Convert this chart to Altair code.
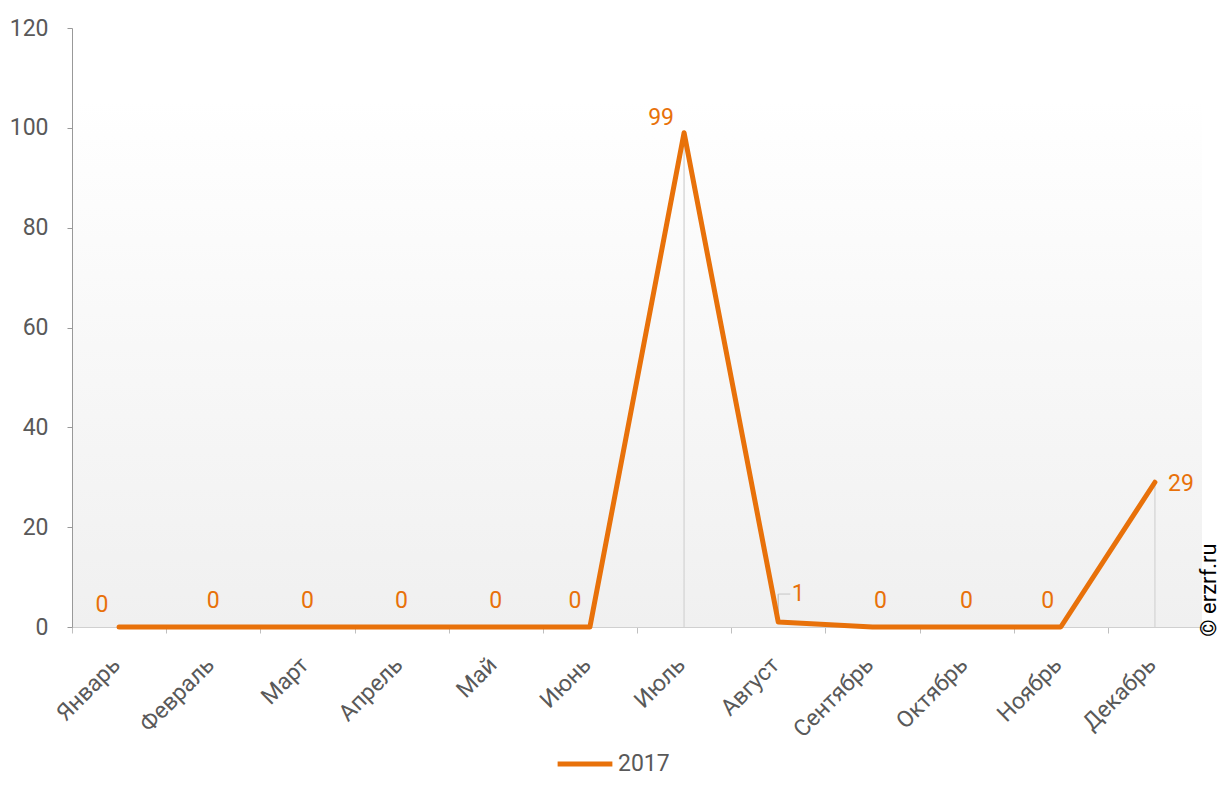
import altair as alt
import pandas as pd

months = ["Январь", "Февраль", "Март", "Апрель", "Май", "Июнь",
          "Июль", "Август", "Сентябрь", "Октябрь", "Ноябрь", "Декабрь"]
values = [0, 0, 0, 0, 0, 0, 99, 1, 0, 0, 0, 29]
series = "2017"
y_ticks = [0, 20, 40, 60, 80, 100, 120]

# label leader line for the "1" label (in data units)
leader_month = "Август"
leader_y = [1.8, 6.6]

ORANGE = "#E8710A"
TXT = "#595959"
FONT = "Roboto"
FS = 23
W, H = 1130, 599

df = pd.DataFrame({"month": months, "value": values, "series": series})

xenc = alt.X("month:N", sort=months,
             scale=alt.Scale(type="band", paddingInner=0, paddingOuter=0),
             axis=alt.Axis(title=None, labelAngle=-45, labelAlign="right",
                           labelBaseline="middle", tickBand="extent"))
yscale = alt.Scale(domain=[0, 120], nice=False)
yenc = alt.Y("value:Q", scale=yscale, axis=alt.Axis(title=None, values=y_ticks))

base = alt.Chart(df)

bg = alt.Chart(pd.DataFrame({"a": [0]})).mark_rect(
    color=alt.LinearGradient(
        gradient="linear",
        stops=[alt.GradientStop(color="#ffffff", offset=0),
               alt.GradientStop(color="#ffffff", offset=0.12),
               alt.GradientStop(color="#f0f0f0", offset=1)],
        x1=0, x2=0, y1=0, y2=1)
).encode(x=alt.value(1), x2=alt.value(W),
         y=alt.datum(120, scale=yscale, axis=alt.Axis(title=None, values=y_ticks)),
         y2=alt.datum(0))

drops = base.transform_filter(alt.datum.value > 1).mark_rule(
    color="#d9d9d9", strokeWidth=1.5
).encode(x=xenc, y=yenc, y2=alt.datum(0))

ldf = pd.DataFrame({"month": [leader_month], "y0": [leader_y[0]], "y1": [leader_y[1]]})
leader_v = alt.Chart(ldf).mark_rule(color="#c8c8c8", strokeWidth=1.5).encode(
    x=xenc, y=alt.Y("y0:Q", scale=yscale), y2="y1:Q")
leader_h = alt.Chart(ldf).mark_tick(color="#c8c8c8", thickness=1.5, size=12,
                                    orient="horizontal", xOffset=6).encode(
    x=xenc, y=alt.Y("y1:Q", scale=yscale))

line = base.mark_line(strokeWidth=5, strokeCap="round", strokeJoin="round").encode(
    x=xenc,
    y=yenc,
    color=alt.Color("series:N", scale=alt.Scale(range=[ORANGE]),
                    legend=alt.Legend(title=None, orient="none",
                                      legendX=483, legendY=706,
                                      symbolType="stroke", symbolSize=3000,
                                      symbolStrokeWidth=5, labelFontSize=FS,
                                      labelColor=TXT, labelFont=FONT,
                                      padding=0, labelOffset=3))
)

lbl_kw = dict(fontSize=FS, color=ORANGE, font=FONT)


def lbl(names, dx, dy):
    return base.transform_filter(
        alt.FieldOneOfPredicate(field="month", oneOf=names)
    ).mark_text(dx=dx, dy=dy, **lbl_kw).encode(x=xenc, y=yenc, text="value:Q")


layers = [
    bg, drops, leader_v, leader_h, line,
    lbl(["Февраль", "Март", "Апрель", "Май", "Октябрь"], 0, -26),
    lbl(["Январь"], -17, -22),
    lbl(["Июнь"], -15, -26),
    lbl(["Сентябрь"], 8, -26),
    lbl(["Ноябрь"], -13, -26),
    lbl(["Июль"], -23, -15),
    lbl(["Август"], 20, -28),
    lbl(["Декабрь"], 26, 2),
]

wm = alt.Chart(pd.DataFrame({"t": ["© erzrf.ru"]})).mark_text(
    angle=270, fontSize=22, color="#000000", font=FONT, align="center", baseline="middle"
).encode(x=alt.value(1137), y=alt.value(562), text="t:N")
layers.append(wm)

chart = alt.layer(*layers).properties(
    width=W, height=H,
    autosize=alt.AutoSizeParams(type="none"),
    padding={"left": 64, "top": 20, "right": 20, "bottom": 150},
).configure_view(stroke=None).configure_axisX(
    labelFontSize=FS, labelColor=TXT, labelFont=FONT, labelPadding=28, labelOffset=-3,
    domainColor="#d0d0d0", tickColor="#bfbfbf", tickSize=6, grid=False,
).configure_axisY(
    labelFontSize=FS, labelColor=TXT, labelFont=FONT, labelPadding=19,
    domainColor="#999999", tickColor="#999999", tickSize=5, grid=False,
    domain=True, ticks=True,
)

chart.save("out.html", embed_options={"renderer": "svg", "actions": False})
